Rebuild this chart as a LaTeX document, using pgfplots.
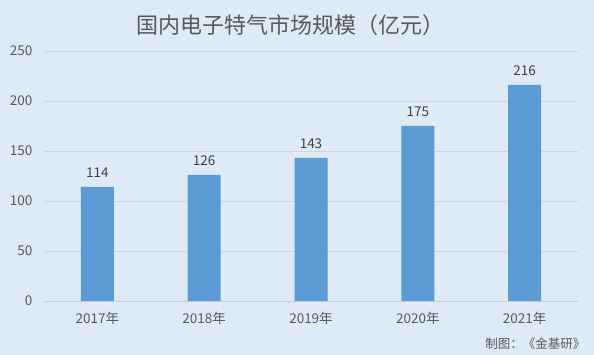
\documentclass[border=0pt]{standalone}
\usepackage{pgfplots}
\pgfplotsset{compat=1.18}
\usepackage{fontspec}
\setmainfont{Noto Sans CJK SC}
\definecolor{bg}{HTML}{DEEAF6}
\definecolor{bar}{HTML}{5B9BD5}
\definecolor{grid}{HTML}{CDD6E0}
\definecolor{txt}{HTML}{595959}
\begin{document}
\begin{tikzpicture}[x=1pt,y=1pt]
\useasboundingbox[fill=bg] (0,0) rectangle (594,355);
\node[text=txt,font=\fontsize{22}{26}\selectfont] at (290,330) {国内电子特气市场规模（亿元）};
\node[text=txt,font=\fontsize{12.5}{14}\selectfont,anchor=east] at (589,11) {制图：《金基研》};
\begin{axis}[
  at={(44pt,54pt)}, anchor=south west,
  scale only axis, width=534pt, height=250pt,
  xmin=-0.5, xmax=4.5, ymin=0, ymax=250,
  ytick={0,50,...,250},
  xtick={0,1,2,3,4},
  xticklabels={2017年,2018年,2019年,2020年,2021年},
  axis line style={draw=none},
  axis x line*=bottom,
  axis y line*=left,
  major tick length=0pt,
  ymajorgrids, grid style={draw=grid, line width=0.8pt},
  tick label style={text=txt, font=\fontsize{13.5}{15}\selectfont},
  /pgf/number format/assume math mode=true,
  yticklabel style={xshift=-8pt},
  xticklabel style={yshift=-8pt},
  clip=false,
]
\addplot[ybar, bar width=33pt, fill=bar, draw=none,
  nodes near coords,
  nodes near coords style={text=black!75, font=\fontsize{13.5}{15}\selectfont, yshift=6pt}]
  coordinates {(0,114) (1,126) (2,143) (3,175) (4,216)};
\draw[grid!90!black!80, line width=0.8pt] (axis cs:-0.5,0) -- (axis cs:4.5,0);
\end{axis}
\end{tikzpicture}
\end{document}
